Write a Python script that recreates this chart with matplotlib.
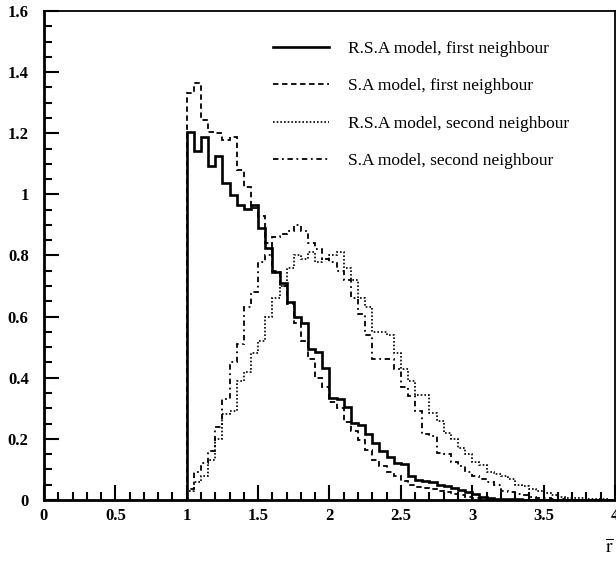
import numpy as np
import matplotlib
matplotlib.use("Agg")
import matplotlib.pyplot as plt
from matplotlib.ticker import MultipleLocator, FormatStrFormatter

plt.rcParams['font.family'] = ['Liberation Serif', 'DejaVu Serif']
plt.rcParams['mathtext.fontset'] = 'stix'

# histogram bins: 1.00 .. 4.00, width 0.05
bin_edges = np.round(np.arange(1.0, 4.0001, 0.05), 2)

rsa_first = [1.205, 1.143, 1.189, 1.094, 1.126, 1.036, 0.998, 0.965, 0.951, 0.965,
             0.889, 0.824, 0.747, 0.709, 0.649, 0.600, 0.578, 0.494, 0.485, 0.433,
             0.333, 0.331, 0.303, 0.253, 0.245, 0.217, 0.188, 0.161, 0.140, 0.122,
             0.118, 0.080, 0.064, 0.062, 0.058, 0.050, 0.045, 0.038, 0.032, 0.025,
             0.018, 0.010, 0.006, 0.004, 0.003, 0.002, 0.002, 0.001, 0.001, 0.0,
             0.0, 0.0, 0.0, 0.0, 0.0, 0.0, 0.0, 0.0, 0.0, 0.0]

sa_first = [1.331, 1.364, 1.243, 1.205, 1.200, 1.178, 1.189, 1.080, 1.025, 0.955,
            0.930, 0.840, 0.750, 0.700, 0.640, 0.580, 0.520, 0.460, 0.400, 0.370,
            0.320, 0.300, 0.255, 0.225, 0.195, 0.165, 0.130, 0.110, 0.092, 0.080,
            0.062, 0.050, 0.044, 0.040, 0.035, 0.030, 0.025, 0.020, 0.016, 0.010,
            0.006, 0.003, 0.001, 0.0, 0.0, 0.0, 0.0, 0.0, 0.0, 0.0,
            0.0, 0.0, 0.0, 0.0, 0.0, 0.0, 0.0, 0.0, 0.0, 0.0]

rsa_second = [0.030, 0.060, 0.080, 0.130, 0.200, 0.280, 0.290, 0.390, 0.420, 0.480,
              0.520, 0.600, 0.660, 0.700, 0.760, 0.800, 0.790, 0.810, 0.780, 0.790,
              0.800, 0.810, 0.760, 0.720, 0.660, 0.630, 0.550, 0.550, 0.540, 0.480,
              0.430, 0.390, 0.345, 0.345, 0.285, 0.260, 0.220, 0.200, 0.170, 0.150,
              0.125, 0.115, 0.090, 0.085, 0.080, 0.070, 0.050, 0.045, 0.035, 0.030,
              0.022, 0.015, 0.010, 0.008, 0.006, 0.005, 0.004, 0.003, 0.002, 0.001]

sa_second = [0.035, 0.090, 0.120, 0.160, 0.240, 0.330, 0.450, 0.510, 0.630, 0.680,
             0.780, 0.800, 0.860, 0.870, 0.880, 0.900, 0.880, 0.840, 0.820, 0.790,
             0.780, 0.750, 0.720, 0.660, 0.610, 0.540, 0.460, 0.460, 0.460, 0.430,
             0.370, 0.340, 0.290, 0.215, 0.210, 0.155, 0.150, 0.125, 0.110, 0.090,
             0.080, 0.070, 0.060, 0.050, 0.030, 0.025, 0.020, 0.015, 0.010, 0.008,
             0.005, 0.003, 0.002, 0.0, 0.0, 0.0, 0.0, 0.0, 0.0, 0.0]

labels = ["R.S.A model, first neighbour",
          "S.A model, first neighbour",
          "R.S.A model, second neighbour",
          "S.A model, second neighbour"]

fig = plt.figure(figsize=(6.16, 5.63), dpi=100)
ax = fig.add_axes([0.0714, 0.1119, 0.927, 0.8686])

ax.stairs(rsa_first, bin_edges, color="black", lw=1.9, ls="-", label=labels[0])
ax.stairs(sa_first, bin_edges, color="black", lw=1.3, ls=(0, (3, 2)), label=labels[1])
ax.stairs(rsa_second, bin_edges, color="black", lw=1.2, ls=(0, (1, 1.2)), label=labels[2])
ax.stairs(sa_second, bin_edges, color="black", lw=1.3, ls=(0, (3, 2, 1, 2)), label=labels[3])

ax.set_xlim(0, 4)
ax.set_ylim(0, 1.6)

ax.xaxis.set_major_locator(MultipleLocator(0.5))
ax.xaxis.set_minor_locator(MultipleLocator(0.1))
ax.yaxis.set_major_locator(MultipleLocator(0.2))
ax.yaxis.set_minor_locator(MultipleLocator(0.05))
fmt = FormatStrFormatter('%g')
ax.xaxis.set_major_formatter(fmt)
ax.yaxis.set_major_formatter(fmt)

ax.tick_params(which="both", direction="in", top=False, right=False, width=1.5)
ax.tick_params(which="major", length=11, labelsize=12)
ax.tick_params(axis="y", which="major", pad=11)
ax.tick_params(axis="x", which="major", pad=6)
ax.tick_params(which="minor", length=6)
for lab in ax.get_xticklabels() + ax.get_yticklabels():
    lab.set_fontweight("bold")

for side in ["left", "bottom"]:
    ax.spines[side].set_linewidth(2.0)
for side in ["top", "right"]:
    ax.spines[side].set_linewidth(1.3)

ax.legend(loc="upper left", bbox_to_anchor=(0.385, 0.957), frameon=False,
          borderpad=0, fontsize=12.5, handlelength=3.28, handletextpad=1.04,
          labelspacing=1.23)

fig.text(0.996, 0.012, r"$\overline{\mathrm{r}}$", fontsize=14, ha="right", va="bottom")

fig.savefig("out.png", dpi=100)
